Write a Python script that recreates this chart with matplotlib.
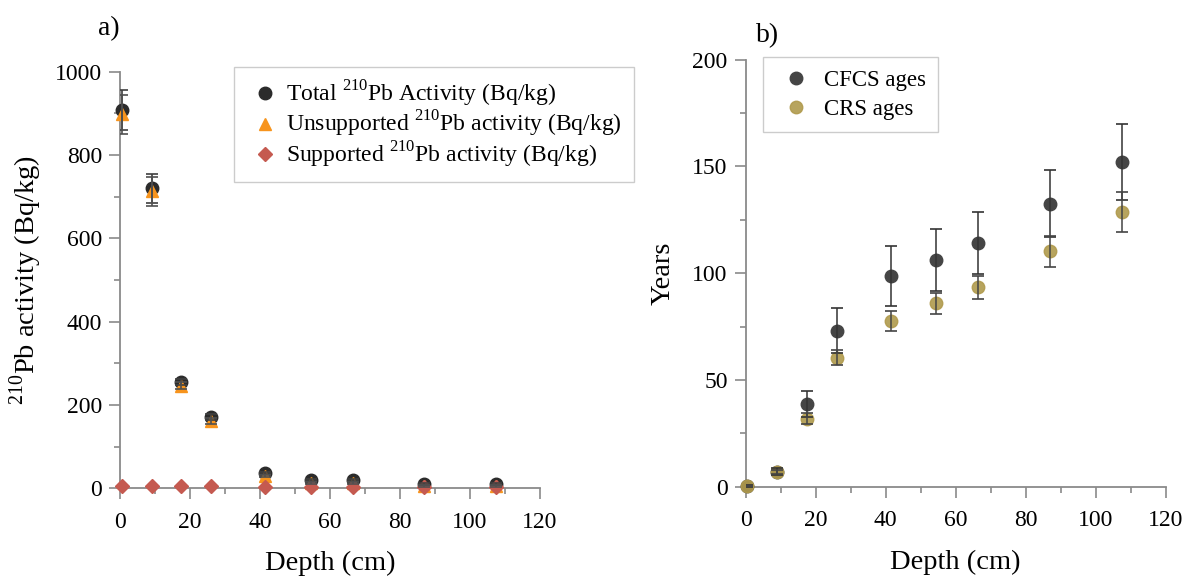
import numpy as np
import matplotlib
matplotlib.use("Agg")
import matplotlib.pyplot as plt
from matplotlib.ticker import MultipleLocator

plt.rcParams['font.family'] = ['Liberation Serif', 'DejaVu Serif']
plt.rcParams['mathtext.fontset'] = 'custom'
plt.rcParams['mathtext.rm'] = 'Liberation Serif'

# depth of each slice (cm)
depth = [0.5, 9, 17.5, 26, 41.5, 54.5, 66.5, 87, 107.5]

# panel a: 210Pb activities (Bq/kg)
total = [908, 720, 255, 172, 37, 20, 20, 11, 11]
total_err = [47, 35, 8, 7, 3, 2, 2, 2, 2]
unsupported = [898, 713, 246, 162, 29, 13, 13, 5, 5]
unsupported_err = [47, 35, 8, 7, 3, 2, 2, 2, 2]
supported = [5, 5, 5, 6, 4, 4, 4, 4, 4]

# panel b: ages (years)
cfcs = [0.3, 7.1, 38.7, 73.0, 98.5, 106.0, 114.0, 132.5, 152.0]
cfcs_err = [0.3, 1.5, 6, 10.5, 14, 14.5, 14.5, 15.8, 18]
crs = [0.3, 6.8, 31.8, 60.3, 77.6, 85.8, 93.3, 110.2, 128.6]
crs_err = [0.2, 1.0, 2.5, 3.5, 4.5, 5.0, 5.5, 7.4, 9.5]

c_total = '#2b2b2b'
c_unsup = '#f7941d'
c_sup = '#c55a50'
c_cfcs = '#454545'
c_crs = '#b09a4c'
spine_c = '#8a8a8a'

fig = plt.figure(figsize=(11.92, 5.79), dpi=100)
ax1 = fig.add_axes([0.1007, 0.1567, 0.3523, 0.7195])
ax2 = fig.add_axes([0.6256, 0.1594, 0.3523, 0.7378])


def style(ax):
    for s in ['top', 'right']:
        ax.spines[s].set_visible(False)
    for s in ['left', 'bottom']:
        ax.spines[s].set_color(spine_c)
        ax.spines[s].set_linewidth(1.3)
    ax.tick_params(which='major', length=8, width=1.2, color=spine_c,
                   labelsize=17, pad=5)
    ax.tick_params(axis='x', which='major', pad=9)
    ax.tick_params(which='minor', length=4, width=1.2, color=spine_c)
    ax.xaxis.set_major_locator(MultipleLocator(20))
    ax.xaxis.set_minor_locator(MultipleLocator(10))
    ax.set_xlim(0, 120)
    ax.set_xlabel('Depth (cm)', fontsize=20.5, labelpad=13)


# panel a
style(ax1)
ax1.set_ylim(0, 1000)
ax1.yaxis.set_major_locator(MultipleLocator(200))
ax1.yaxis.set_minor_locator(MultipleLocator(100))
ax1.plot(depth, total, 'o', color=c_total, ms=9, zorder=3, clip_on=False,
         label=r'Total $^{210}$Pb Activity (Bq/kg)')
ax1.plot(depth, unsupported, '^', color=c_unsup, ms=8.5, zorder=4, clip_on=False,
         label=r'Unsupported $^{210}$Pb activity (Bq/kg)')
ax1.plot(depth, supported, 'D', color=c_sup, ms=7, zorder=5, clip_on=False,
         label=r'Supported $^{210}$Pb activity (Bq/kg)')
ax1.errorbar(depth, total, yerr=total_err, fmt='none', ecolor='#404040',
             elinewidth=1.2, capsize=4, capthick=1.2, zorder=6)
ax1.errorbar(depth, unsupported, yerr=unsupported_err, fmt='none',
             ecolor='#505050', elinewidth=1.2, capsize=4, capthick=1.2, zorder=6)
ax1.set_ylabel(r'$^{210}$Pb activity (Bq/kg)', fontsize=20.5, labelpad=8)
leg1 = ax1.legend(loc='upper left', bbox_to_anchor=(0.1963, 0.8843),
                  bbox_transform=fig.transFigure, fontsize=17, frameon=True,
                  fancybox=False, edgecolor='#cccccc', framealpha=1,
                  handletextpad=0.1, labelspacing=0.0, borderpad=0.5,
                  handlelength=1.6, borderaxespad=0)
leg1.get_frame().set_linewidth(1.0)
fig.text(0.1007, 0.94, 'a)', fontsize=20, ha='right', va='baseline')

# panel b
style(ax2)
ax2.set_ylim(0, 200)
ax2.yaxis.set_major_locator(MultipleLocator(50))
ax2.yaxis.set_minor_locator(MultipleLocator(25))
ax2.plot(depth, cfcs, 'o', color=c_cfcs, ms=9, zorder=3, clip_on=False,
         label='CFCS ages')
ax2.plot(depth, crs, 'o', color=c_crs, ms=9, zorder=4, alpha=0.9, clip_on=False,
         label='CRS ages')
ax2.errorbar(depth, cfcs, yerr=cfcs_err, fmt='none', ecolor='#333333',
             elinewidth=1.1, capsize=4.5, capthick=1.2, zorder=6)
ax2.errorbar(depth, crs, yerr=crs_err, fmt='none', ecolor='#444444',
             elinewidth=1.1, capsize=4.5, capthick=1.2, zorder=6)
ax2.set_ylabel('Years', fontsize=20.5, labelpad=12)
leg2 = ax2.legend(loc='upper left', bbox_to_anchor=(0.6401, 0.9016),
                  bbox_transform=fig.transFigure, fontsize=16.5, frameon=True,
                  fancybox=False, edgecolor='#cccccc', framealpha=1,
                  handletextpad=0.3, labelspacing=0.35, borderpad=0.55,
                  handlelength=1.8, borderaxespad=0)
leg2.get_frame().set_linewidth(1.0)
fig.text(0.634, 0.927, 'b)', fontsize=20, ha='left', va='baseline')

fig.savefig('out.png', dpi=100)
